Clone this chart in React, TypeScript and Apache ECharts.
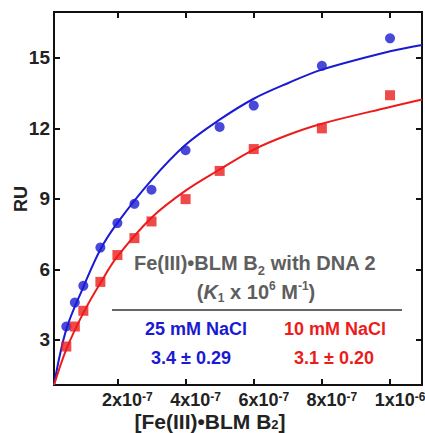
import React, { useEffect, useRef } from 'react';
import * as echarts from 'echarts';

// Measured data points: concentration of Fe(III)•BLM B2 (M) and response (RU)
const concentrations = [5e-8, 7.5e-8, 1e-7, 1.5e-7, 2e-7, 2.5e-7, 3e-7, 4e-7, 5e-7, 6e-7, 8e-7, 1e-6];
const ru25mMNaCl = [3.57, 4.59, 5.3, 6.93, 7.97, 8.79, 9.39, 11.07, 12.06, 12.97, 14.66, 15.83];
const ru10mMNaCl = [2.72, 3.57, 4.24, 5.47, 6.61, 7.33, 8.04, 8.99, 10.19, 11.12, 12.0, 13.41];

// Fitted curves
const fitConcentrations = [1.4e-8, 5e-8, 1e-7, 1.5e-7, 2e-7, 3e-7, 4e-7, 5e-7, 6e-7, 7e-7, 8e-7, 1e-6, 1.094e-6];
const fit25mMNaCl = [1.1, 3.45, 5.25, 6.85, 7.98, 9.8, 11.3, 12.37, 13.26, 13.92, 14.5, 15.28, 15.55];
const fit10mMNaCl = [1.08, 2.6, 4.15, 5.42, 6.55, 8.2, 9.35, 10.25, 11.1, 11.72, 12.2, 12.91, 13.23];

// Axis ticks
const xTickValues = [2e-7, 4e-7, 6e-7, 8e-7, 1e-6];
const xTickMantissas = ['2', '4', '6', '8', '1'];
const xTickExponents = ['-7', '-7', '-7', '-7', '-6'];
const yTickValues = [3, 6, 9, 12, 15];

const X_MIN = 1.39e-8;
const X_MAX = 1.0938e-6;
const Y_MIN = 1.083;
const Y_MAX = 16.95;

const BLUE = '#1a1ad2';
const RED = '#ec1c1c';
const GRAY = '#5e5e5e';
const FONT = '"Liberation Sans", Arial, sans-serif';

export default function App() {
  const ref = useRef<HTMLDivElement>(null);

  useEffect(() => {
    document.body.style.margin = '0';
    if (!ref.current) return;
    const chart = echarts.init(ref.current, null, { renderer: 'svg' });

    const base = { fontFamily: FONT, fontWeight: 'bold' as const };

    const xLabelFormatter = (v: number) => {
      let idx = 0;
      let best = Infinity;
      xTickValues.forEach((t, i) => {
        const d = Math.abs(t - v);
        if (d < best) {
          best = d;
          idx = i;
        }
      });
      return `{m|${xTickMantissas[idx]}x10}{e|${xTickExponents[idx]}}`;
    };

    const tickStyle = { show: true, inside: true, length: 6, lineStyle: { color: '#111', width: 2 } };

    const option: echarts.EChartsOption = {
      animation: false,
      backgroundColor: '#fff',
      grid: {
        left: 54,
        right: 3,
        top: 12,
        bottom: 48,
        containLabel: false,
        outerBoundsMode: 'none',
        show: true,
        borderColor: '#111',
        borderWidth: 2,
        backgroundColor: 'transparent',
      } as any,
      xAxis: [
        {
          type: 'value',
          min: X_MIN,
          max: X_MAX,
          position: 'bottom',
          splitLine: { show: false },
          axisLine: { show: false },
          axisTick: { ...tickStyle, customValues: xTickValues },
          axisLabel: {
            show: true,
            customValues: xTickValues,
            formatter: xLabelFormatter,
            margin: 6,
            padding: [0, 0, 0, 20],
            rich: {
              m: { ...base, fontSize: 18, color: '#222', lineHeight: 18, verticalAlign: 'bottom' },
              e: { ...base, fontSize: 12, color: '#222', lineHeight: 18, verticalAlign: 'top' },
            },
          },
        },
        {
          type: 'value',
          min: X_MIN,
          max: X_MAX,
          position: 'top',
          splitLine: { show: false },
          axisLine: { show: false },
          axisTick: { ...tickStyle, customValues: xTickValues },
          axisLabel: { show: false },
        },
      ],
      yAxis: [
        {
          type: 'value',
          min: Y_MIN,
          max: Y_MAX,
          position: 'left',
          splitLine: { show: false },
          axisLine: { show: false },
          axisTick: { ...tickStyle, customValues: yTickValues },
          axisLabel: {
            customValues: yTickValues,
            margin: 4,
            ...base,
            fontSize: 19,
            color: '#222',
          },
        },
        {
          type: 'value',
          min: Y_MIN,
          max: Y_MAX,
          position: 'right',
          splitLine: { show: false },
          axisLine: { show: false },
          axisTick: { ...tickStyle, customValues: yTickValues },
          axisLabel: { show: false },
        },
      ],
      series: [
        {
          name: 'fit 25 mM NaCl',
          type: 'line',
          data: fitConcentrations.map((x, i) => [x, fit25mMNaCl[i]]),
          smooth: 0.35,
          showSymbol: false,
          lineStyle: { color: BLUE, width: 2 },
          z: 2,
        },
        {
          name: 'fit 10 mM NaCl',
          type: 'line',
          data: fitConcentrations.map((x, i) => [x, fit10mMNaCl[i]]),
          smooth: 0.35,
          showSymbol: false,
          lineStyle: { color: RED, width: 2 },
          z: 2,
        },
        {
          name: '25 mM NaCl',
          type: 'scatter',
          data: concentrations.map((x, i) => [x, ru25mMNaCl[i]]),
          symbol: 'circle',
          symbolSize: 10,
          itemStyle: { color: BLUE },
          z: 3,
        },
        {
          name: '10 mM NaCl',
          type: 'scatter',
          data: concentrations.map((x, i) => [x, ru10mMNaCl[i]]),
          symbol: 'rect',
          symbolSize: 10,
          itemStyle: { color: RED },
          z: 3,
        },
      ],
      graphic: [
        {
          type: 'text',
          z: 10,
          x: 21,
          y: 199,
          rotation: Math.PI / 2,
          style: {
            x: 0,
            y: 0,
            align: 'center',
            verticalAlign: 'middle',
            text: 'RU',
            fill: '#222',
            font: `bold 18px ${FONT}`,
          },
        } as any,
        {
          type: 'text',
          z: 10,
          style: {
            x: 255,
            y: 265,
            align: 'center',
            verticalAlign: 'middle',
            text: '{t|Fe(III)•BLM B}{s|2}{t| with DNA 2}',
            rich: {
              t: { ...base, fontSize: 20, fill: GRAY, lineHeight: 24, verticalAlign: 'top' },
              s: { ...base, fontSize: 13, fill: GRAY, lineHeight: 24, verticalAlign: 'bottom' },
            },
          },
        } as any,
        {
          type: 'text',
          z: 10,
          style: {
            x: 256,
            y: 292,
            align: 'center',
            verticalAlign: 'middle',
            text: '{t|(}{i|K}{s|1}{t| x 10}{p|6}{t| M}{p|-1}{t|)}',
            rich: {
              t: { ...base, fontSize: 20, fill: GRAY, lineHeight: 24, verticalAlign: 'middle' },
              i: { ...base, fontStyle: 'italic', fontSize: 20, fill: GRAY, lineHeight: 24, verticalAlign: 'middle' },
              s: { ...base, fontSize: 12, fill: GRAY, lineHeight: 24, verticalAlign: 'bottom' },
              p: { ...base, fontSize: 12, fill: GRAY, lineHeight: 24, verticalAlign: 'top' },
            },
          },
        } as any,
        {
          type: 'line',
          z: 10,
          shape: { x1: 112, y1: 310, x2: 402, y2: 310 },
          style: { stroke: '#333', lineWidth: 1.5 },
        },
        {
          type: 'text',
          z: 10,
          style: {
            x: 196,
            y: 329,
            align: 'center',
            verticalAlign: 'middle',
            text: '25 mM NaCl',
            fill: BLUE,
            font: `bold 18px ${FONT}`,
          },
        },
        {
          type: 'text',
          z: 10,
          style: {
            x: 335,
            y: 329,
            align: 'center',
            verticalAlign: 'middle',
            text: '10 mM NaCl',
            fill: RED,
            font: `bold 18px ${FONT}`,
          },
        },
        {
          type: 'text',
          z: 10,
          style: {
            x: 191,
            y: 358,
            align: 'center',
            verticalAlign: 'middle',
            text: '3.4 ± 0.29',
            fill: BLUE,
            font: `bold 18px ${FONT}`,
          },
        },
        {
          type: 'text',
          z: 10,
          style: {
            x: 334,
            y: 358,
            align: 'center',
            verticalAlign: 'middle',
            text: '3.1 ± 0.20',
            fill: RED,
            font: `bold 18px ${FONT}`,
          },
        },
        {
          type: 'text',
          z: 10,
          style: {
            x: 210,
            y: 421,
            align: 'center',
            verticalAlign: 'middle',
            text: '{t|[Fe(III)•BLM B}{s|2}{t|]}',
            rich: {
              t: { ...base, fontSize: 21, fill: '#222', lineHeight: 20, verticalAlign: 'top' },
              s: { ...base, fontSize: 13, fill: '#222', lineHeight: 20, verticalAlign: 'bottom' },
            },
          },
        } as any,
      ],
    };

    chart.setOption(option);
    return () => chart.dispose();
  }, []);

  return <div ref={ref} style={{ position: 'absolute', left: 0, top: 0, width: 425, height: 433 }} />;
}
